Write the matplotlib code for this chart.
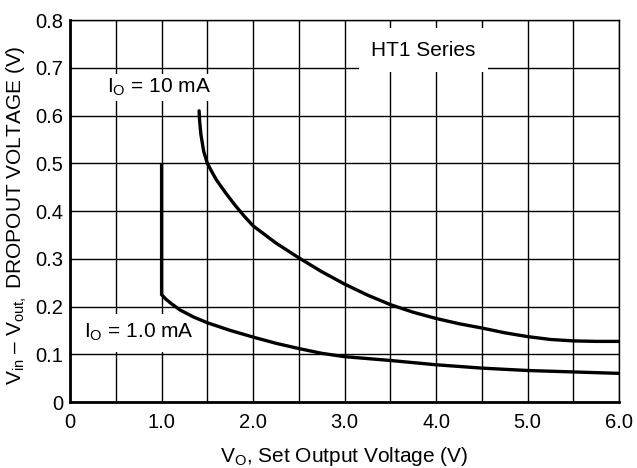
import numpy as np
import matplotlib.pyplot as plt

plt.rcParams['font.family'] = ['Liberation Sans', 'DejaVu Sans']
plt.rcParams['mathtext.fontset'] = 'custom'
plt.rcParams['mathtext.rm'] = 'Liberation Sans'
plt.rcParams['mathtext.it'] = 'Liberation Sans'

# I_O = 10 mA curve
vo_10ma = [1.41, 1.415, 1.43, 1.46, 1.5, 1.55, 1.6, 1.7, 1.8, 1.9, 2.0, 2.25, 2.5,
           2.75, 3.0, 3.25, 3.5, 3.75, 4.0, 4.25, 4.5, 4.75, 5.0, 5.25, 5.5, 5.75, 6.0]
vdrop_10ma = [0.61, 0.59, 0.56, 0.525, 0.50, 0.482, 0.465, 0.438, 0.413, 0.39, 0.369,
              0.333, 0.302, 0.273, 0.247, 0.224, 0.204, 0.188, 0.175, 0.164, 0.155,
              0.145, 0.137, 0.131, 0.128, 0.127, 0.127]

# I_O = 1.0 mA curve
vo_1ma = [1.0, 1.0, 1.05, 1.1, 1.2, 1.35, 1.5, 1.75, 2.0, 2.25, 2.5, 2.75, 3.0,
          3.5, 4.0, 4.5, 5.0, 5.5, 6.0]
vdrop_1ma = [0.50, 0.225, 0.215, 0.207, 0.193, 0.178, 0.166, 0.15, 0.136, 0.123,
             0.112, 0.102, 0.095, 0.087, 0.078, 0.071, 0.066, 0.063, 0.060]

x_ticks = [0, 1, 2, 3, 4, 5, 6]
x_ticklabels = ["0", "1.0", "2.0", "3.0", "4.0", "5.0", "6.0"]
y_ticks = [0, 0.1, 0.2, 0.3, 0.4, 0.5, 0.6, 0.7, 0.8]
y_ticklabels = ["0", "0.1", "0.2", "0.3", "0.4", "0.5", "0.6", "0.7", "0.8"]

FS = 15

fig, ax = plt.subplots(figsize=(6.37, 4.68), dpi=100)
fig.subplots_adjust(left=0.110, right=0.972, bottom=0.141, top=0.957)

ax.plot(vo_10ma, vdrop_10ma, color='black', lw=2.4, solid_capstyle='round', zorder=3)
ax.plot(vo_1ma, vdrop_1ma, color='black', lw=2.4, solid_capstyle='butt',
        solid_joinstyle='miter', zorder=3)

ax.set_xlim(0, 6)
ax.set_ylim(0, 0.8)
ax.set_xticks(np.arange(0, 6.01, 0.5), minor=True)
ax.set_xticks(x_ticks)
ax.set_xticklabels(x_ticklabels)
ax.set_yticks(y_ticks)
ax.set_yticklabels(y_ticklabels)
ax.grid(True, which='both', axis='x', color='black', lw=1.0)
ax.grid(True, which='major', axis='y', color='black', lw=1.0)
ax.tick_params(which='both', length=0, labelsize=14.5)
ax.tick_params(axis='x', pad=8)
ax.tick_params(axis='y', pad=5)

for side in ['top', 'right']:
    ax.spines[side].set_linewidth(1.0)
for side in ['left', 'bottom']:
    ax.spines[side].set_linewidth(2.0)

ax.set_xlabel(r'V$_\mathregular{O}$, Set Output Voltage (V)', fontsize=FS, labelpad=9)
ax.set_ylabel(r'V$_\mathregular{in}$ – V$_\mathregular{out,}$ DROPOUT VOLTAGE (V)',
              fontsize=FS)
ax.yaxis.set_label_coords(-0.075, 0.49)

ax.text(0.40, 0.659, r'I$_\mathregular{O}$ = 10 mA', fontsize=FS, va='center',
        ha='left', bbox=dict(facecolor='white', edgecolor='none', pad=2), zorder=2)
ax.text(0.15, 0.145, r'I$_\mathregular{O}$ = 1.0 mA', fontsize=FS, va='center',
        ha='left', bbox=dict(facecolor='white', edgecolor='none', pad=6), zorder=2)
ax.text(3.86, 0.737, 'HT1 Series', fontsize=FS, va='center', ha='center',
        bbox=dict(facecolor='white', edgecolor='none', pad=9), zorder=2)

fig.savefig('out.png', dpi=100)
